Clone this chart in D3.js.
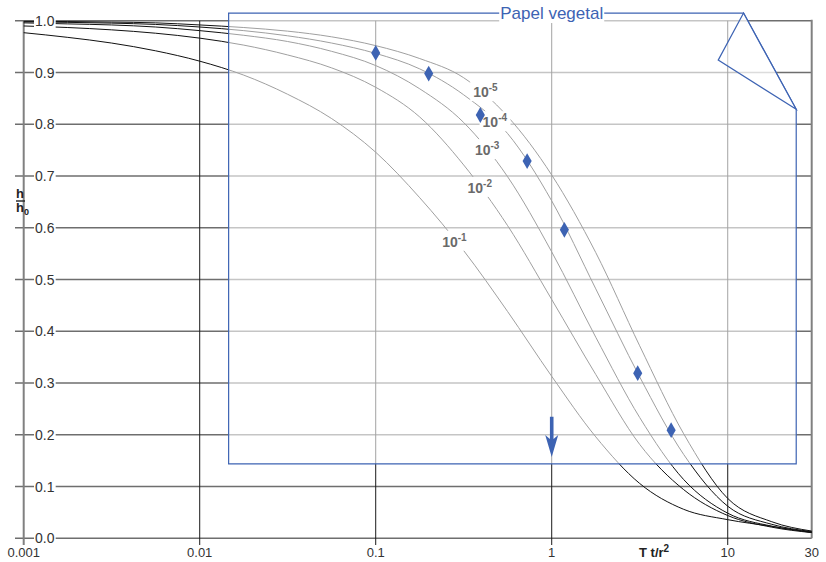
<!DOCTYPE html>
<html>
<head>
<meta charset="utf-8">
<script src="https://cdn.jsdelivr.net/npm/d3@7"></script>
<style>
  body { margin: 0; background: #fff; }
  svg { display: block; font-family: "Liberation Sans", Arial, sans-serif; }
</style>
</head>
<body>
<script>
// Slug test type curves, h/h0 against T t/r^2
var alphaExp = [-1, -2, -3, -4, -5];

// T t/r^2 at quarter decades
var tGrid = [0.001, 0.00178, 0.00316, 0.00562, 0.01, 0.0178, 0.0316, 0.0562, 0.1, 0.178, 0.316, 0.562, 1, 1.78, 3.16, 5.62, 10, 17.8, 30];

// h/h0 for each alpha
var hA1 = [0.977, 0.968, 0.957, 0.942, 0.922, 0.895, 0.858, 0.811, 0.746, 0.658, 0.556, 0.438, 0.313, 0.196, 0.106, 0.056, 0.036, 0.023, 0.011];
var hA2 = [0.99, 0.987, 0.9825, 0.976, 0.9665, 0.953, 0.934, 0.909, 0.8715, 0.814, 0.7215, 0.604, 0.4615, 0.3165, 0.1815, 0.094, 0.044, 0.0215, 0.011];
var hA3 = [0.996, 0.994, 0.992, 0.988, 0.981, 0.972, 0.96, 0.941, 0.9135, 0.8685, 0.8035, 0.6985, 0.5535, 0.3885, 0.2335, 0.1135, 0.0485, 0.0235, 0.012];
var hA4 = [0.998, 0.997, 0.9955, 0.993, 0.988, 0.981, 0.971, 0.957, 0.937, 0.907, 0.857, 0.782, 0.652, 0.482, 0.312, 0.162, 0.062, 0.027, 0.013];
var hA5 = [0.999, 0.9985, 0.9975, 0.996, 0.992, 0.987, 0.98, 0.969, 0.952, 0.927, 0.89, 0.815, 0.702, 0.552, 0.372, 0.202, 0.077, 0.032, 0.014];
var curves = [hA1, hA2, hA3, hA4, hA5];

// where each curve's label sits (T, h)
var labelAt = [[0.28, 0.575], [0.39, 0.679], [0.43, 0.752], [0.475, 0.806], [0.42, 0.864]];

// field data, blue diamonds
var fieldT = [0.1, 0.2, 0.393, 0.725, 1.18, 3.08, 4.77];
var fieldH = [0.938, 0.898, 0.818, 0.729, 0.596, 0.319, 0.209];

var xTicks = [0.001, 0.01, 0.1, 1, 10, 30];
var xTickLabels = ["0.001", "0.01", "0.1", "1", "10", "30"];
var yTicks = [0, 0.1, 0.2, 0.3, 0.4, 0.5, 0.6, 0.7, 0.8, 0.9, 1.0];
var yTickLabels = ["0.0", "0.1", "0.2", "0.3", "0.4", "0.5", "0.6", "0.7", "0.8", "0.9", "1.0"];

// tracing paper sheet, in data units
var paper = { left: 0.0146, right: 24.5, top: 1.015, bottom: 0.144, foldT: 12.3, foldH: 0.829, tipT: 8.83, tipH: 0.924 };
var arrowAt = { T: 1, top: 0.235, tip: 0.157 };

var width = 826, height = 562;
var blue = "#3d63b3";

var svg = d3.select("body").append("svg")
  .attr("width", width)
  .attr("height", height);

var x = d3.scaleLog().domain([0.001, 30]).range([23.7, 811.7]);
var y = d3.scaleLinear().domain([0, 1]).range([538.3, 20.8]);

// horizontal grid
svg.append("g").selectAll("line").data(yTicks).enter().append("line")
  .attr("x1", 15).attr("x2", x(30))
  .attr("y1", function(d) { return y(d); })
  .attr("y2", function(d) { return y(d); })
  .attr("stroke", "#6e6e6e")
  .attr("stroke-width", 1.6);

// vertical grid at the decades
svg.append("g").selectAll("line").data([0.01, 0.1, 1, 10]).enter().append("line")
  .attr("x1", function(d) { return x(d); })
  .attr("x2", function(d) { return x(d); })
  .attr("y1", y(1)).attr("y2", 545)
  .attr("stroke", "#1a1a1a")
  .attr("stroke-width", 1);

svg.append("line")
  .attr("x1", x(0.001)).attr("x2", x(0.001))
  .attr("y1", y(1)).attr("y2", 545)
  .attr("stroke", "#808080").attr("stroke-width", 2);

svg.append("line")
  .attr("x1", x(30)).attr("x2", x(30))
  .attr("y1", y(1) - 1).attr("y2", y(0))
  .attr("stroke", "#808080").attr("stroke-width", 2);

var line = d3.line()
  .x(function(d, i) { return x(tGrid[i]); })
  .y(function(d) { return y(d); })
  .curve(d3.curveMonotoneX);

svg.append("g").selectAll("path").data(curves).enter().append("path")
  .attr("d", line)
  .attr("fill", "none")
  .attr("stroke", "#111")
  .attr("stroke-width", 1);

// the tracing paper over the chart
var pts = [
  [x(paper.left), y(paper.top)],
  [x(paper.foldT), y(paper.top)],
  [x(paper.right), y(paper.foldH)],
  [x(paper.right), y(paper.bottom)],
  [x(paper.left), y(paper.bottom)]
];
svg.append("polygon")
  .attr("points", pts.map(function(p) { return p.join(","); }).join(" "))
  .attr("fill", "#fff")
  .attr("fill-opacity", 0.6)
  .attr("stroke", blue)
  .attr("stroke-width", 1.2);

var fold = [
  [x(paper.foldT), y(paper.top)],
  [x(paper.tipT), y(paper.tipH)],
  [x(paper.right), y(paper.foldH)]
];
svg.append("polygon")
  .attr("points", fold.map(function(p) { return p.join(","); }).join(" "))
  .attr("fill", "#fff")
  .attr("fill-opacity", 0.4)
  .attr("stroke", blue)
  .attr("stroke-width", 1.2);

// text with a white patch behind it
function patch(sel, padX, padY) {
  sel.each(function() {
    var node = this;
    var b = node.getBBox();
    d3.select(node.parentNode).insert("rect", function() { return node; })
      .attr("x", b.x - padX).attr("y", b.y - padY)
      .attr("width", b.width + 2 * padX).attr("height", b.height + 2 * padY)
      .attr("fill", "#fff");
  });
}

// curve labels
var lab = svg.append("g").selectAll("g").data(alphaExp).enter().append("g");
var labText = lab.append("text")
  .attr("x", function(d, i) { return x(labelAt[i][0]); })
  .attr("y", function(d, i) { return y(labelAt[i][1]) + 6; })
  .attr("text-anchor", "middle")
  .attr("fill", "#6a6a6a")
  .attr("font-weight", "bold")
  .attr("font-size", 14);
labText.append("tspan").text("10");
labText.append("tspan")
  .attr("dy", -6)
  .attr("font-size", 10)
  .text(function(d) { return String(d); });
patch(labText, 3, 1);

// diamonds
svg.append("g").selectAll("path").data(fieldT).enter().append("path")
  .attr("d", d3.symbol().type(d3.symbolDiamond).size(72))
  .attr("transform", function(d, i) { return "translate(" + x(d) + "," + y(fieldH[i]) + ")"; })
  .attr("fill", blue);

// arrow at T t/r^2 = 1
var ax = x(arrowAt.T), ay0 = y(arrowAt.top), ay1 = y(arrowAt.tip);
svg.append("path")
  .attr("d", "M" + (ax - 1.8) + "," + ay0 + "L" + (ax + 1.8) + "," + ay0 +
    "L" + (ax + 1.8) + "," + (ay1 - 18) + "L" + (ax + 6.5) + "," + (ay1 - 22) +
    "L" + ax + "," + ay1 + "L" + (ax - 6.5) + "," + (ay1 - 22) +
    "L" + (ax - 1.8) + "," + (ay1 - 18) + "Z")
  .attr("fill", blue);

// title on the paper edge
var tg = svg.append("g");
var title = tg.append("text")
  .attr("x", x(1))
  .attr("y", y(paper.top) + 6)
  .attr("text-anchor", "middle")
  .attr("fill", blue)
  .attr("font-size", 17)
  .text("Papel vegetal");
patch(title, 1, 0);

// y tick labels
var yl = svg.append("g").selectAll("g").data(yTicks).enter().append("g");
var ylText = yl.append("text")
  .attr("x", 35)
  .attr("y", function(d) { return y(d) + 5; })
  .attr("fill", "#333")
  .attr("font-size", 14)
  .text(function(d, i) { return yTickLabels[i]; });
patch(ylText, 1, 0);

// x tick labels
svg.append("g").selectAll("text").data(xTicks).enter().append("text")
  .attr("x", function(d) { return x(d); })
  .attr("y", 557)
  .attr("text-anchor", "middle")
  .attr("fill", "#333")
  .attr("font-size", 13)
  .text(function(d, i) { return xTickLabels[i]; });

// axis titles
var xt = svg.append("text")
  .attr("x", 639).attr("y", 557)
  .attr("font-weight", "bold")
  .attr("font-size", 13)
  .attr("fill", "#222");
xt.append("tspan").text("T t/r");
xt.append("tspan").attr("dy", -5).attr("font-size", 10).text("2");

// h over h0, one text element
var yt = svg.append("g").attr("font-weight", "bold").attr("fill", "#222");
var ytText = yt.append("text").attr("x", 16).attr("y", 198).attr("font-size", 13);
ytText.append("tspan").text("h");
ytText.append("tspan").attr("x", 16).attr("dy", 14).text("h");
ytText.append("tspan").attr("dy", 3).attr("font-size", 9).text("0");
yt.append("line").attr("x1", 16).attr("x2", 25).attr("y1", 201).attr("y2", 201)
  .attr("stroke", "#222").attr("stroke-width", 1.4);
</script>
</body>
</html>
